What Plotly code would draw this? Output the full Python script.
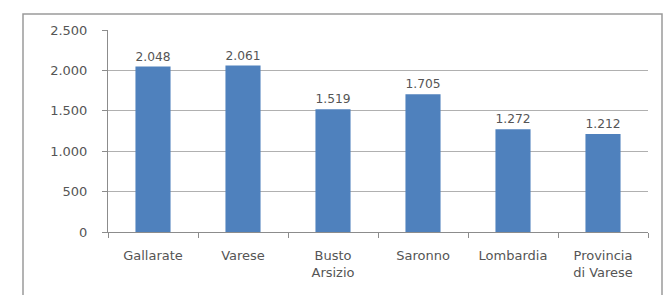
import plotly.graph_objects as go

categories = ["Gallarate", "Varese", "Busto<br>Arsizio", "Saronno", "Lombardia", "Provincia<br>di Varese"]
values = [2048, 2061, 1519, 1705, 1272, 1212]
y_ticks = [0, 500, 1000, 1500, 2000, 2500]

W, H = 669, 295
L, R, T, B = 108, 21, 30, 63
pw, ph = W - L - R, H - T - B
FONT = "DejaVu Sans, Verdana, sans-serif"

fig = go.Figure(go.Bar(
    x=categories, y=values,
    marker=dict(color="#4F81BD", line=dict(width=0)),
    width=0.39,
    texttemplate="%{y:,.0f}", textposition="outside",
    textfont=dict(family=FONT, size=13, color="#555555"),
    cliponaxis=False,
))

def px_x(x): return (x - L) / pw
def px_y(y): return (H - B - y) / ph

fig.add_shape(type="rect", xref="paper", yref="paper",
              x0=px_x(23), x1=px_x(662), y0=px_y(310), y1=px_y(14),
              line=dict(color="#9a9a9a", width=1.5), fillcolor="rgba(0,0,0,0)", layer="below")

fig.update_layout(
    width=W, height=H,
    margin=dict(l=L, r=R, t=T, b=B),
    paper_bgcolor="white", plot_bgcolor="white",
    separators=",.",
    showlegend=False,
    font=dict(family=FONT, size=13, color="#555555"),
)
fig.update_yaxes(
    range=[0, 2500], tickvals=y_ticks, tickformat=",d",
    showgrid=True, gridcolor="#b0b0b0", gridwidth=1,
    showline=True, linecolor="#8c8c8c", linewidth=1,
    ticks="outside", ticklen=5, tickcolor="#8c8c8c",
    zeroline=False, ticklabelstandoff=12,
)
fig.update_xaxes(
    showline=True, linecolor="#8c8c8c", linewidth=1,
    ticks="outside", ticklen=5, tickcolor="#8c8c8c",
    tickson="boundaries", showgrid=False, ticklabelstandoff=11,
)

fig.write_html("out.html", config={"displayModeBar": False},
               post_script="document.body.style.margin='0';")
